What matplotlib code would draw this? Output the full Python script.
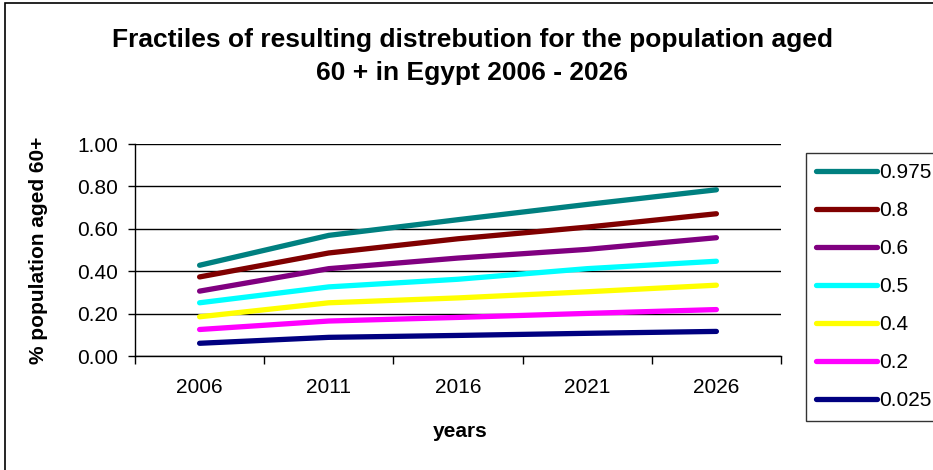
import numpy as np
import matplotlib
matplotlib.use('Agg')
import matplotlib.pyplot as plt
from matplotlib.patches import Rectangle

plt.rcParams['font.family'] = ['Liberation Sans', 'DejaVu Sans']

years = ['2006', '2011', '2016', '2021', '2026']
fractiles = ['0.975', '0.8', '0.6', '0.5', '0.4', '0.2', '0.025']
colors = ['#008080', '#800000', '#800080', '#00FFFF', '#FFFF00', '#FF00FF', '#000080']

q975 = [0.428, 0.569, 0.643, 0.715, 0.784]
q800 = [0.373, 0.486, 0.553, 0.608, 0.671]
q600 = [0.306, 0.412, 0.462, 0.503, 0.558]
q500 = [0.251, 0.326, 0.362, 0.412, 0.447]
q400 = [0.185, 0.251, 0.274, 0.303, 0.334]
q200 = [0.125, 0.165, 0.182, 0.201, 0.219]
q025 = [0.060, 0.088, 0.097, 0.107, 0.116]
series = [q975, q800, q600, q500, q400, q200, q025]

W, H = 933, 470
fig = plt.figure(figsize=(W / 100, H / 100), dpi=100)

# outer chart border
fig.patches.append(Rectangle((5 / W, -0.05), 1.0, 1 - 3 / H + 0.05, transform=fig.transFigure,
                             fill=False, edgecolor='black', linewidth=1.2))

ax = fig.add_axes([135 / W, 1 - 356 / H, (781 - 135) / W, (356 - 144) / H])
x = np.arange(len(years))
for vals, lab, c in zip(series, fractiles, colors):
    ax.plot(x, vals, color=c, linewidth=3.8, solid_capstyle='round', label=lab)

ax.set_xlim(-0.5, len(years) - 0.5)
ax.set_ylim(0, 1.0)
ax.set_yticks(np.arange(0, 1.01, 0.2))
ax.set_yticklabels(['%.2f' % v for v in np.arange(0, 1.01, 0.2)], fontsize=15)
ax.set_xticks(x)
ax.set_xticklabels(years, fontsize=15)
ax.set_xticks(np.arange(-0.5, len(years)), minor=True)
ax.tick_params(axis='x', which='major', length=0, pad=16)
ax.tick_params(axis='x', which='minor', length=6, width=1, direction='out')
ax.tick_params(axis='y', length=5, width=1, direction='out', pad=7)
ax.grid(axis='y', color='black', linewidth=1)
ax.set_axisbelow(True)
for s in ['top', 'right']:
    ax.spines[s].set_visible(False)
ax.spines['left'].set_linewidth(1)
ax.spines['bottom'].set_linewidth(1)

ax.set_xlabel('years', fontsize=15, fontweight='bold')
ax.set_ylabel('% population aged 60+', fontsize=15, fontweight='bold')
ax.xaxis.set_label_coords((460 - 135) / (781 - 135), -(422 - 356) / (356 - 144))
ax.yaxis.set_label_coords(-(135 - 48) / (781 - 135), (356 - 250) / (356 - 144))

fig.text(472 / W, 1 - 40 / H, 'Fractiles of resulting distrebution for the population aged',
         ha='center', va='center', fontsize=19, fontweight='bold')
fig.text(472 / W, 1 - 73 / H, '60 + in Egypt 2006 - 2026',
         ha='center', va='center', fontsize=19, fontweight='bold')

leg = fig.legend(loc='upper left', bbox_to_anchor=(806 / W, 1 - 153 / H), fontsize=15,
                 frameon=True, fancybox=False, edgecolor='black', handlelength=2.9,
                 handletextpad=0.1, labelspacing=0.91, borderpad=0.5, borderaxespad=0)
leg.get_frame().set_linewidth(1)

fig.savefig('out.png', dpi=100)
